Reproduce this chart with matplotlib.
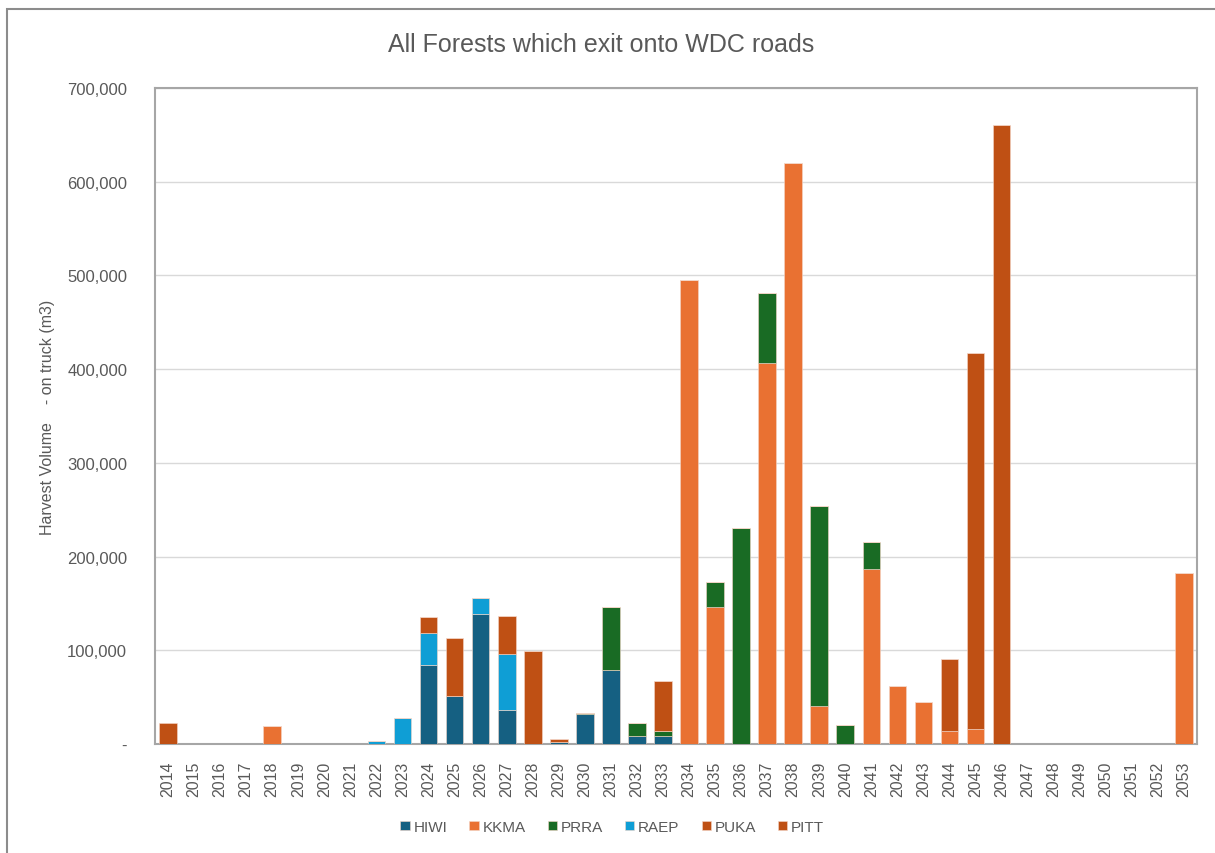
import matplotlib.pyplot as plt
import numpy as np
from matplotlib.patches import Rectangle
from matplotlib.ticker import FuncFormatter

plt.rcParams['font.family'] = ['Liberation Sans', 'DejaVu Sans']

# data (m3 on truck), years 2014-2053
years = [str(y) for y in range(2014, 2054)]
series_names = ['HIWI', 'KKMA', 'PRRA', 'RAEP', 'PUKA', 'PITT']
hiwi = [0, 0, 0, 0, 0, 0, 0, 0, 0, 0,
        84000, 51500, 139000, 36000, 0, 2000, 31500, 79000, 8500, 8500,
        0, 0, 0, 0, 0, 0, 0, 0, 0, 0,
        0, 0, 0, 0, 0, 0, 0, 0, 0, 0]
kkma = [0, 0, 0, 0, 19000, 0, 0, 0, 0, 0,
        0, 0, 0, 0, 0, 0, 0, 0, 0, 0,
        495000, 146000, 0, 406500, 620000, 41000, 0, 187000, 62000, 44500,
        13500, 15500, 0, 0, 0, 0, 0, 0, 0, 182000]
prra = [0, 0, 0, 0, 0, 0, 0, 0, 0, 0,
        0, 0, 0, 0, 0, 0, 1500, 67000, 13500, 5000,
        0, 27000, 230000, 74500, 0, 213000, 20500, 29000, 0, 0,
        0, 0, 0, 0, 0, 0, 0, 0, 0, 0]
raep = [0, 0, 0, 0, 0, 0, 0, 0, 3500, 27500,
        34500, 0, 17000, 60000, 0, 0, 0, 0, 0, 0,
        0, 0, 0, 0, 0, 0, 0, 0, 0, 0,
        0, 0, 0, 0, 0, 0, 0, 0, 0, 0]
puka = [0, 0, 0, 0, 0, 0, 0, 0, 0, 0,
        16500, 61500, 0, 41000, 99000, 3000, 0, 0, 0, 53500,
        0, 0, 0, 0, 0, 0, 0, 0, 0, 0,
        77500, 401500, 660000, 0, 0, 0, 0, 0, 0, 0]
pitt = [22500, 0, 0, 0, 0, 0, 0, 0, 0, 0,
        0, 0, 0, 0, 0, 0, 0, 0, 0, 0,
        0, 0, 0, 0, 0, 0, 0, 0, 0, 0,
        0, 0, 0, 0, 0, 0, 0, 0, 0, 0]

colors = ['#156082', '#E97132', '#196B24', '#0F9ED5', '#BF5014', '#BF5014']
grey = '#595959'

fig = plt.figure(figsize=(12.15, 8.54), dpi=100)
ax = fig.add_axes([155 / 1215, 1 - 745 / 854, (1197 - 155) / 1215, (745 - 89) / 854])

x = np.arange(len(years))
bottom = np.zeros(len(years))
for name, vals, c in zip(series_names, [hiwi, kkma, prra, raep, puka, pitt], colors):
    vals = np.array(vals, dtype=float)
    ax.bar(x, vals, 0.68, bottom=bottom, color=c, label=name,
           edgecolor='#f4d6c8', linewidth=0.4, zorder=3)
    bottom += vals

ax.set_xlim(-0.5, len(years) - 0.5)
ax.set_ylim(0, 700000)
ax.set_yticks(np.arange(0, 700001, 100000))
ax.yaxis.set_major_formatter(FuncFormatter(lambda v, p: '-' if v == 0 else f'{int(v):,}'))
ax.set_xticks(x)
ax.set_xticklabels(years, rotation=90)
ax.tick_params(axis='both', length=0, colors=grey)
ax.tick_params(axis='y', pad=20, labelsize=12)
ax.tick_params(axis='x', pad=12, labelsize=11.5)
ax.grid(axis='y', color='#d9d9d9', linewidth=1, zorder=0)
for s in ax.spines.values():
    s.set_color('#a6a6a6')
    s.set_linewidth(1.5)

ax.set_ylabel('Harvest Volume    - on truck (m3)', color=grey, fontsize=11.5, labelpad=9)

fig.text(0.495, 1 - 45 / 854, 'All Forests which exit onto WDC roads', ha='center', va='center',
         fontsize=18, color=grey)

ax.legend(loc='center', bbox_to_anchor=(0.504, 1 - 828 / 854), bbox_transform=fig.transFigure,
          ncol=6, frameon=False, fontsize=11, handlelength=0.6, handleheight=0.6,
          handletextpad=0.25, columnspacing=1.45, labelcolor=grey)

# outer chart border
fig.patches.append(Rectangle((7 / 1215, -0.2), 2, 1.2 - 10 / 854, transform=fig.transFigure,
                             fill=False, edgecolor='#8c8c8c', linewidth=1.5))

plt.savefig('out.png', dpi=100)
